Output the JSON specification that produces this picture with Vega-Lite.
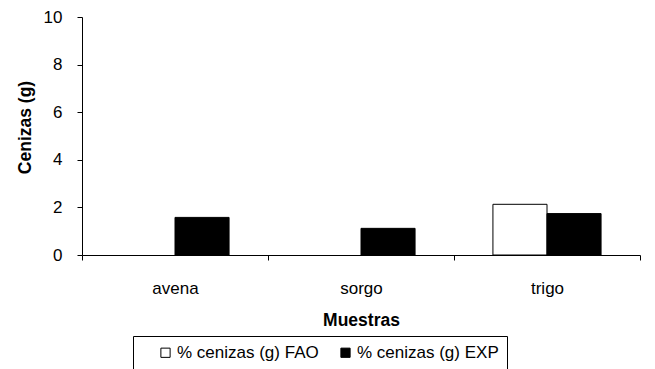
{
  "$schema": "https://vega.github.io/schema/vega-lite/v6.json",
  "width": 558,
  "height": 238,
  "autosize": {"type": "none"},
  "padding": {"left": 82, "top": 17, "right": 15, "bottom": 114},
  "background": "white",
  "config": {"view": {"stroke": null}, "font": "Liberation Sans"},
  "data": {
    "values": [
      {"muestra": "avena", "serie": "% cenizas (g) FAO", "valor": null},
      {"muestra": "avena", "serie": "% cenizas (g) EXP", "valor": 1.58},
      {"muestra": "sorgo", "serie": "% cenizas (g) FAO", "valor": null},
      {"muestra": "sorgo", "serie": "% cenizas (g) EXP", "valor": 1.12},
      {"muestra": "trigo", "serie": "% cenizas (g) FAO", "valor": 2.13},
      {"muestra": "trigo", "serie": "% cenizas (g) EXP", "valor": 1.74}
    ]
  },
  "mark": {"type": "bar", "stroke": "black", "strokeWidth": 1},
  "encoding": {
    "x": {
      "field": "muestra",
      "type": "nominal",
      "sort": ["avena", "sorgo", "trigo"],
      "scale": {"paddingInner": 0, "paddingOuter": 0},
      "axis": {
        "title": "Muestras",
        "labelAngle": 0,
        "tickBand": "extent",
        "domainColor": "black",
        "tickColor": "black",
        "tickSize": 5,
        "labelPadding": 20,
        "labelFontSize": 17,
        "labelColor": "black",
        "titleFontSize": 17.5,
        "titleFontWeight": "bold",
        "titleColor": "black",
        "titleY": 56,
        "titleBaseline": "top"
      }
    },
    "xOffset": {
      "field": "serie",
      "type": "nominal",
      "sort": ["% cenizas (g) FAO", "% cenizas (g) EXP"],
      "scale": {"paddingInner": 0, "paddingOuter": 0.72}
    },
    "y": {
      "field": "valor",
      "type": "quantitative",
      "scale": {"domain": [0, 10]},
      "axis": {
        "title": "Cenizas (g)",
        "values": [0, 2, 4, 6, 8, 10],
        "grid": false,
        "domainColor": "black",
        "tickColor": "black",
        "tickSize": 5,
        "labelPadding": 15,
        "labelFontSize": 17,
        "labelColor": "black",
        "titleFontSize": 17.5,
        "titleFontWeight": "bold",
        "titleColor": "black",
        "titleAngle": 270,
        "titleBaseline": "middle",
        "titleX": -57,
        "titleY": 110
      }
    },
    "color": {
      "field": "serie",
      "type": "nominal",
      "scale": {"domain": ["% cenizas (g) FAO", "% cenizas (g) EXP"], "range": ["white", "black"]},
      "legend": {
        "orient": "none",
        "legendX": 51,
        "legendY": 319,
        "direction": "horizontal",
        "title": null,
        "padding": 8,
        "strokeColor": "black",
        "fillColor": "white",
        "symbolType": "square",
        "symbolSize": 85,
        "symbolStrokeColor": "black",
        "symbolStrokeWidth": 1,
        "symbolOffset": 16,
        "labelFontSize": 17,
        "labelColor": "black",
        "labelOffset": 3,
        "columnPadding": 2,
        "labelLimit": 300
      }
    }
  }
}
